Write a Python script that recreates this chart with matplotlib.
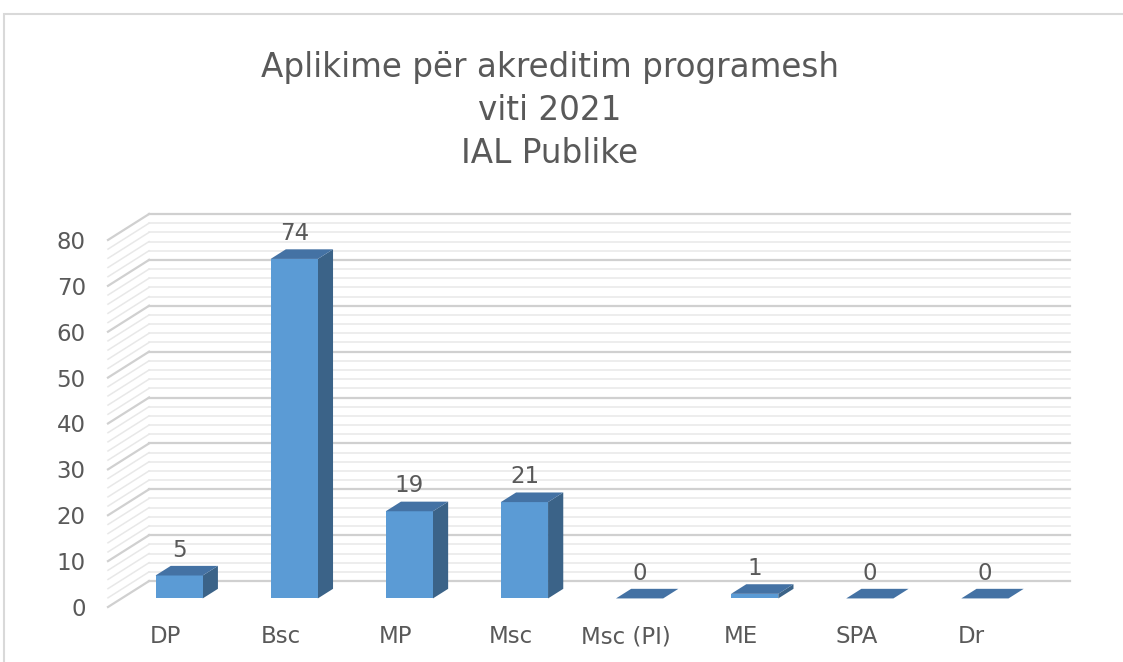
import matplotlib.pyplot as plt
from matplotlib.patches import Polygon, Rectangle
from matplotlib.lines import Line2D

categories = ['DP', 'Bsc', 'MP', 'Msc', 'Msc (PI)', 'ME', 'SPA', 'Dr']
values = [5, 74, 19, 21, 0, 1, 0, 0]
y_ticks = [0, 10, 20, 30, 40, 50, 60, 70, 80]
title_lines = ['Aplikime për akreditim programesh', 'viti 2021', 'IAL Publike']

# fake 3d: depth offset of the back wall in data units
DX = 0.357
DY = 5.66
ymax = 80
d_front, d_back = 0.33, 0.70
half_w = 0.205

c_front = '#5B9BD5'
c_top = '#4472A4'
c_side = '#3B6388'
txt = '#595959'


def proj(x, y, d):
    return (x + d * DX, y + d * DY)


fig = plt.figure(figsize=(11.23, 6.62), dpi=100)
fig.patch.set_facecolor('white')

# outer chart frame
fig.add_artist(Rectangle((4 / 1123, -0.1), 1.2, (662 - 14) / 662 + 0.1,
                         transform=fig.transFigure, fill=False,
                         edgecolor='#D9D9D9', lw=1.5))

ax = fig.add_axes([108 / 1123, 55 / 662, 962 / 1123, 393 / 662])
ax.set_xlim(-0.5, len(categories) - 0.5 + DX)
ax.set_ylim(0, ymax + DY)
for s in ax.spines.values():
    s.set_visible(False)
ax.set_facecolor('none')

# wall gridlines (major every 10, minor every 2)
x0, x1 = -0.5, len(categories) - 0.5
for v in range(0, ymax + 1, 2):
    major = v % 10 == 0
    col = '#D0D0D0' if major else '#E8E8E8'
    lw = 1.6 if major else 1.1
    bx0, by0 = proj(x0, v, 1)
    bx1, by1 = proj(x1, v, 1)
    fx, fy = proj(x0, v, 0)
    ax.add_line(Line2D([bx0, bx1], [by0, by1], color=col, lw=lw, zorder=1, clip_on=False))
    ax.add_line(Line2D([fx, bx0], [fy, by0], color=col, lw=lw, zorder=1, clip_on=False))

# 3d columns
for i, v in enumerate(values):
    l, r = i - half_w, i + half_w
    front = [proj(l, 0, d_front), proj(r, 0, d_front), proj(r, v, d_front), proj(l, v, d_front)]
    side = [proj(r, 0, d_front), proj(r, 0, d_back), proj(r, v, d_back), proj(r, v, d_front)]
    top = [proj(l, v, d_front), proj(r, v, d_front), proj(r, v, d_back), proj(l, v, d_back)]
    ax.add_patch(Polygon(side, closed=True, facecolor=c_side, edgecolor='none', zorder=3, clip_on=False))
    ax.add_patch(Polygon(front, closed=True, facecolor=c_front, edgecolor='none', zorder=3, clip_on=False))
    ax.add_patch(Polygon(top, closed=True, facecolor=c_top, edgecolor='none', zorder=4, clip_on=False))
    lx, ly = proj(i, v, d_front)
    ax.annotate(str(v), (lx, ly), xytext=(0, 10), textcoords='offset points',
                ha='center', va='bottom', fontsize=16.5, color=txt, zorder=5)

ax.set_xticks(range(len(categories)))
ax.set_xticklabels(categories)
ax.set_yticks(y_ticks)
ax.tick_params(axis='x', length=0, pad=13, labelsize=16.5, labelcolor=txt)
ax.tick_params(axis='y', length=0, pad=16, labelsize=16.5, labelcolor=txt)

for k, line in enumerate(title_lines):
    fig.text(550 / 1123, 1 - (77 + 43 * k) / 662, line, ha='center', va='baseline',
             fontsize=23.5, color=txt)

fig.savefig('out.png', dpi=100)
